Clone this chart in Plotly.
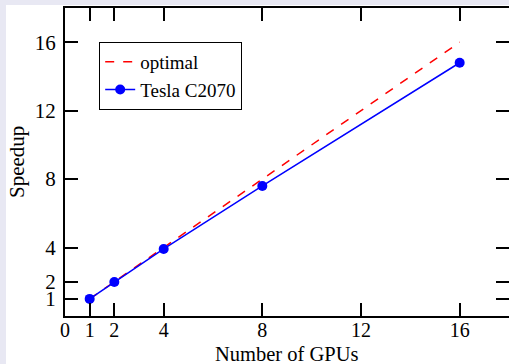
import plotly.graph_objects as go

gpus = [1, 2, 4, 8, 16]
optimal = [1, 2, 4, 8, 16]
tesla = [1, 1.99, 3.92, 7.6, 14.8]
x_ticks = [0, 1, 2, 4, 8, 12, 16]
y_ticks = [1, 2, 4, 8, 12, 16]

FONT = "Liberation Serif, Times New Roman, serif"

fig = go.Figure()
fig.add_trace(go.Scatter(x=gpus, y=optimal, mode="lines", name="optimal",
                         line=dict(color="red", width=1.5, dash="dash")))
fig.add_trace(go.Scatter(x=gpus, y=tesla, mode="lines+markers", name="Tesla C2070",
                         line=dict(color="blue", width=1.5),
                         marker=dict(color="blue", size=10)))
# invisible trace on right axis for mirrored ticks
fig.add_trace(go.Scatter(x=[0], y=[0], yaxis="y2", mode="markers",
                         marker=dict(opacity=0), showlegend=False, hoverinfo="skip"))

fig.add_shape(type="rect", xref="paper", yref="paper",
              x0=-59 / 444, x1=1.1, y0=-0.2, y1=1 + 3 / 308,
              fillcolor="white", line=dict(width=0), layer="below")

fig.update_layout(
    width=509, height=364,
    margin=dict(l=65, r=0, t=8, b=48),
    paper_bgcolor="#e8e8f3", plot_bgcolor="white",
    font=dict(family=FONT, size=21, color="black"),
    showlegend=True,
    legend=dict(x=0.077, y=0.89, xanchor="left", yanchor="top",
                bgcolor="white", bordercolor="black", borderwidth=1,
                font=dict(family=FONT, size=19), tracegroupgap=0),
    xaxis=dict(range=[0, 18], tickvals=x_ticks, ticktext=[str(v) for v in x_ticks],
               ticks="inside", ticklen=13, tickwidth=1.5, tickcolor="black",
               tickfont=dict(size=20), ticklabelstandoff=-5,
               showline=True, linecolor="black", linewidth=2, mirror="ticks",
               showgrid=False, zeroline=False),
    yaxis=dict(range=[0, 18], tickvals=y_ticks, ticktext=[str(v) for v in y_ticks],
               ticks="inside", ticklen=13, tickwidth=1.5, tickcolor="black",
               tickfont=dict(size=21), ticklabelstandoff=3,
               showline=True, linecolor="black", linewidth=2,
               showgrid=False, zeroline=False),
    yaxis2=dict(range=[0, 18], tickvals=y_ticks, overlaying="y", side="right",
                ticks="inside", ticklen=13, tickwidth=1.5, tickcolor="black",
                showticklabels=False, showline=False, showgrid=False, zeroline=False),
    annotations=[
        dict(text="Number of GPUs", xref="paper", yref="paper", x=0.5, y=-(353.5 - 316) / 308,
             xanchor="center", yanchor="middle", showarrow=False, font=dict(size=20.5)),
        dict(text="Speedup", xref="paper", yref="paper", x=-(65 - 17) / 444, y=0.5,
             xanchor="center", yanchor="middle", textangle=-90, showarrow=False,
             font=dict(size=21)),
    ],
)

fig.write_html("out.html")
